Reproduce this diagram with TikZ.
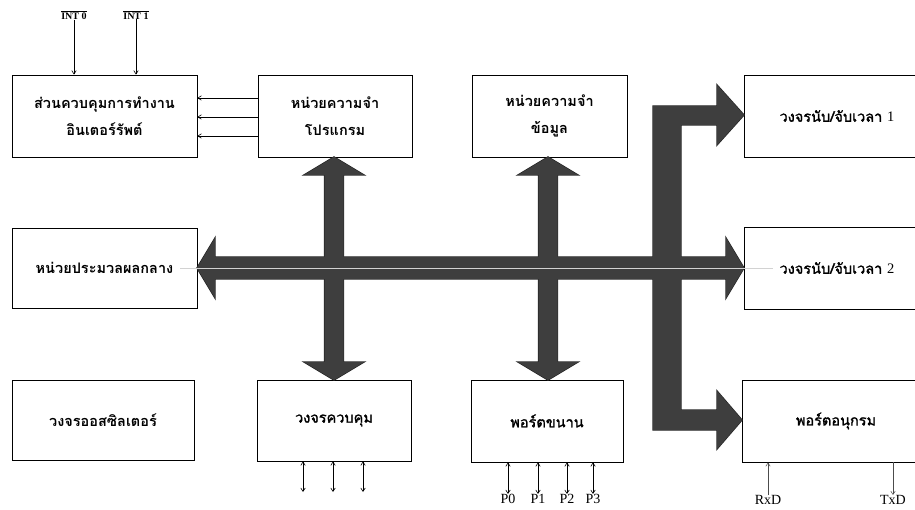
\documentclass[tikz,border=0pt]{standalone}
\usepackage{fontspec}
\newfontfamily\thaifont[Script=Thai]{Loma}
\newfontfamily\thaimedium[Script=Thai,FakeBold=1.6]{Loma}
\newfontfamily\latfont{Liberation Serif}
\usetikzlibrary{arrows.meta}
\definecolor{busgray}{RGB}{62,62,62}
\begin{document}
\begin{tikzpicture}[x=1pt,y=-1pt,
  blockbox/.style={draw=black, line width=0.8pt, inner sep=0pt, align=center,
    font=\thaifont\bfseries\fontsize{14.5}{27}\selectfont},
  lightbox/.style={blockbox, font=\thaimedium\fontsize{14.5}{27}\selectfont},
  sig/.style={line width=0.6pt, -{Straight Barb[length=3.5pt,width=4.5pt]}},
  bisig/.style={line width=0.6pt, {Straight Barb[length=3.5pt,width=4.5pt]}-{Straight Barb[length=3.5pt,width=4.5pt]}},
  pinlabel/.style={font=\latfont\fontsize{14}{14}\selectfont, inner sep=0pt},
  intlabel/.style={inner sep=0pt},
  busline/.style={draw=black!85, line width=1.4pt, line join=miter},
  busfill/.style={fill=busgray},
]
\useasboundingbox (0,0) rectangle (915,510);

% functional blocks
\node[blockbox, minimum width=185, minimum height=82] (irq) at (104.5,116)
  {ส่วนควบคุมการทำงาน\\อินเตอร์รัพต์};
\node[blockbox, minimum width=154, minimum height=82] (prog) at (335,116)
  {หน่วยความจำ\\โปรแกรม};
\node[blockbox, minimum width=155, minimum height=82] (data) at (549.5,116)
  {หน่วยความจำ\\ข้อมูล};
\node[lightbox, minimum width=186, minimum height=82] (tmra) at (837,116)
  {วงจรนับ/จับเวลา {\latfont 1}};
\node[blockbox, minimum width=185, minimum height=80] (cpu) at (104.5,268)
  {หน่วยประมวลผลกลาง};
\node[lightbox, minimum width=186, minimum height=82] (tmrb) at (837,268)
  {วงจรนับ/จับเวลา {\latfont 2}};
\node[blockbox, minimum width=182, minimum height=80] (osc) at (103,420)
  {วงจรออสซิลเตอร์};
\node[lightbox, minimum width=154, minimum height=81] (ctrl) at (334,420.5)
  {วงจรควบคุม};
\node[lightbox, minimum width=152, minimum height=82] (par) at (547,421)
  {พอร์ตขนาน};
\node[lightbox, minimum width=188, minimum height=82] (ser) at (836,421)
  {พอร์ตอนุกรม};

% bus arrows: outlines first, then the fills so crossings merge
\def\hbus{(197,268) -- (215,238) -- (215,257) -- (726,257) -- (726,238) -- (744,268)
  -- (726,298) -- (726,279) -- (215,279) -- (215,298) -- cycle}
\def\vbusA{(334,157) -- (364,175) -- (343.5,175) -- (343.5,362) -- (364,362) -- (334,380)
  -- (304,362) -- (324.5,362) -- (324.5,175) -- (304,175) -- cycle}
\def\vbusB{(548,157) -- (578,175) -- (557.5,175) -- (557.5,362) -- (578,362) -- (548,380)
  -- (518,362) -- (538.5,362) -- (538.5,175) -- (518,175) -- cycle}
\def\lbus{(653,106) -- (717,106) -- (717,85) -- (744,115) -- (717,145) -- (717,125)
  -- (681,125) -- (681,410) -- (717,410) -- (717,391) -- (742,420) -- (717,449)
  -- (717,430) -- (653,430) -- cycle}
\draw[busline] \hbus;
\draw[busline] \vbusA;
\draw[busline] \vbusB;
\draw[busline] \lbus;
\fill[busfill] \hbus;
\fill[busfill] \vbusA;
\fill[busfill] \vbusB;
\fill[busfill] \lbus;

% thin centre line of the main bus
\coordinate (cpuend) at (180,268);
\coordinate (tmrbstart) at (773,268);
\draw[gray!35, line width=0.6pt] (cpuend) -- (tmrbstart);

% interrupt request lines from program memory
\foreach \yy in {98,117,136}
  \draw[sig] (prog.west |- 0,\yy) -- (irq.east |- 0,\yy);

% external interrupt inputs
\node[intlabel] (int0) at (74,15) {$\overline{\mbox{\latfont\bfseries\fontsize{10}{10}\selectfont INT 0}}$};
\node[intlabel] (int1) at (136,15) {$\overline{\mbox{\latfont\bfseries\fontsize{10}{10}\selectfont INT 1}}$};
\draw[sig] (int0.south) -- (int0.south |- irq.north);
\draw[sig] (int1.south) -- (int1.south |- irq.north);

% control lines
\foreach \xx/\nm in {303/c1,333/c2,363/c3}{
  \coordinate (\nm) at (\xx,492);
  \draw[bisig] (ctrl.south -| \nm) -- (\nm);
}

% parallel port pins
\foreach \xx/\lab in {508/P0,538/P1,567/P2,593/P3}{
  \node[pinlabel, anchor=north] (\lab) at (\xx,494) {\lab};
  \draw[bisig] (par.south -| \lab) -- (\lab.north);
}

% serial port pins
\node[pinlabel, anchor=north] (rxd) at (768,495) {RxD};
\node[pinlabel, anchor=north] (txd) at (893,495) {TxD};
\draw[sig, black!70, line width=0.5pt] (rxd.north) -- (rxd.north |- ser.south);
\draw[sig, black!70, line width=0.5pt] (txd.north |- ser.south) -- (txd.north);
\end{tikzpicture}
\end{document}
